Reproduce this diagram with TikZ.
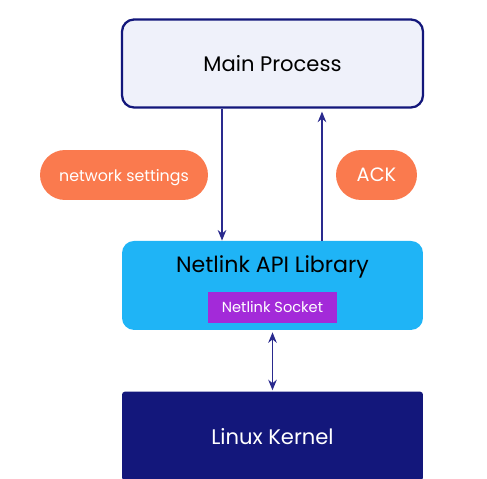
\documentclass[tikz,border=0pt]{standalone}
\usepackage{fontspec}
\setmainfont{Poppins}
\usetikzlibrary{arrows.meta,positioning}

\definecolor{navy}{HTML}{13177B}
\definecolor{lineblue}{HTML}{2A2A8E}
\definecolor{paleblue}{HTML}{EFF1FA}
\definecolor{skyblue}{HTML}{1FB4F6}
\definecolor{violet}{HTML}{A32AD9}
\definecolor{coral}{HTML}{FA7A4E}

\begin{document}
\begin{tikzpicture}[
  x=0.02cm, y=-0.02cm,
  node distance = 2.64cm and 1cm,
  box/.style = {rounded corners=0.24cm, minimum width=6.02cm, minimum height=1.76cm, align=center, font=\fontsize{12}{14}\selectfont},
  pill/.style = {fill=coral, rounded corners=0.5cm, minimum height=1cm, text=white, text depth=0pt, font=\fontsize{9}{11}\selectfont},
  arr/.style = {-{Stealth[length=2.1mm,width=1.7mm]}, line width=1pt, draw=lineblue}
]
\useasboundingbox (0,0) rectangle (487,479);

\node[box, draw=navy, line width=1.3pt, fill=paleblue] (main) at (272.5,63.5) {Main Process};
\node[box, fill=skyblue, below=of main, minimum height=1.78cm] (lib) {};
\node[font=\fontsize{12.6}{14}\selectfont, below=0.18cm of lib.north] (libtitle) {Netlink API Library};
\node[fill=violet, text=white, minimum width=2.58cm, minimum height=0.62cm, font=\fontsize{8.3}{10}\selectfont] (sock) at ([yshift=-0.44cm]lib.center) {Netlink Socket};
\node[box, fill=navy, text=white, rounded corners=0.06cm, minimum height=1.78cm, below=1.22cm of lib] (kernel) {Linux Kernel};

\node[pill, minimum width=3.36cm] (settings) at (124,175) {network settings};
\node[pill, minimum width=1.62cm, font=\fontsize{11}{13}\selectfont] (ack) at (376.5,175) {ACK};

\draw[arr] ([xshift=-1.01cm]main.south) -- ([xshift=-1.01cm]lib.north);
\draw[arr] ([xshift=0.99cm]lib.north) -- ([xshift=0.99cm,yshift=-0.06cm]main.south);
\draw[arr, {Stealth[length=2.1mm,width=1.7mm]}-{Stealth[length=2.1mm,width=1.7mm]}] ([yshift=-0.04cm]lib.south) -- ([yshift=0.02cm]kernel.north);
\end{tikzpicture}
\end{document}
